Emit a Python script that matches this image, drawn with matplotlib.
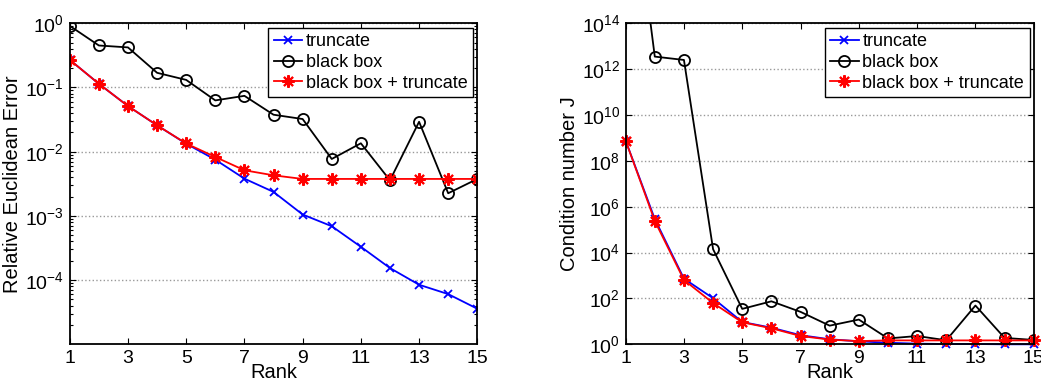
import matplotlib

matplotlib.use("Agg")

import matplotlib.pyplot as plt
from matplotlib.ticker import LogLocator, NullLocator, NullFormatter

plt.rcParams["font.family"] = ["Liberation Sans", "DejaVu Sans"]
plt.rcParams["font.size"] = 14
plt.rcParams["mathtext.fontset"] = "custom"
plt.rcParams["mathtext.rm"] = "Liberation Sans"

# ---- data ----
rank = list(range(1, 16))

err_truncate = [0.269, 0.114, 0.0513, 0.0257, 0.0133, 0.0075, 0.0038, 0.00236,
                0.00105, 0.00069, 0.00033, 0.000154, 8.46e-5, 6.05e-5, 3.58e-5]
err_blackbox = [0.91, 0.45, 0.42, 0.169, 0.131, 0.0628, 0.074, 0.0376,
                0.0322, 0.00769, 0.0135, 0.00358, 0.0292, 0.00225, 0.00376]
err_bb_trunc = [0.269, 0.114, 0.0513, 0.0257, 0.0134, 0.00826, 0.00513, 0.00428,
                0.00376, 0.00376, 0.00376, 0.00376, 0.00376, 0.00376, 0.00376]

cond_truncate = [7.6e8, 2.9e5, 730, 102, 9.4, 5.3, 2.5, 1.66,
                 1.35, 1.17, 1.07, 1.03, 1.03, 1.0, 1.0]
cond_blackbox = [3e22, 3.5e12, 2.5e12, 1.4e4, 35, 75, 26, 6.5,
                 12, 1.8, 2.3, 1.5, 49, 1.9, 1.55]
cond_bb_trunc = [7.6e8, 2.4e5, 640, 63, 9.1, 5.0, 2.3, 1.6,
                 1.38, 1.48, 1.48, 1.48, 1.48, 1.48, 1.48]

legend_labels = ["truncate", "black box", "black box + truncate"]
xticks = [1, 3, 5, 7, 9, 11, 13, 15]

asterisk = (8, 2, 0)

fig = plt.figure(figsize=(10.41, 3.85), dpi=100)
ax1 = fig.add_axes([0.067, 0.1057, 0.3915, 0.834])
ax2 = fig.add_axes([0.601, 0.1057, 0.392, 0.834])


def draw(ax, t, b, r, clip_low):
    lt, = ax.plot(rank, t, color="blue", lw=1.3, marker="x", ms=6, mew=1.3,
                  clip_on=not clip_low)
    lb, = ax.plot(rank, b, color="black", lw=1.3, marker="o", ms=8, mew=1.3,
                  mfc="none")
    lr, = ax.plot(rank, r, color="red", lw=1.3, marker=asterisk, ms=9, mew=1.5,
                  clip_on=not clip_low)
    ax.set_yscale("log")
    ax.set_xlim(1, 15)
    ax.set_xticks(xticks)
    ax.set_xlabel("Rank", labelpad=-3, fontsize=14.5)
    ax.yaxis.grid(True, which="major", linestyle=":", color="#999999", lw=1.0)
    ax.tick_params(which="both", direction="in", top=True, right=True,
                   width=0.8, labelsize=14)
    ax.tick_params(which="major", length=4, pad=4)
    ax.tick_params(which="minor", length=2.5)
    for s in ax.spines.values():
        s.set_linewidth(1.3)
    leg = ax.legend([lt, lb, lr], legend_labels, loc="upper right",
                    bbox_to_anchor=(0.99, 0.985), fancybox=False,
                    edgecolor="black", framealpha=1, handlelength=1.6,
                    handletextpad=0.2, labelspacing=0.2, borderpad=0.3,
                    borderaxespad=0.0, fontsize=13)
    leg.get_frame().set_linewidth(1.0)


draw(ax1, err_truncate, err_blackbox, err_bb_trunc, False)
ax1.set_ylim(1e-5, 1)
ax1.set_yticks([1e-4, 1e-3, 1e-2, 1e-1, 1])
ax1.yaxis.set_minor_locator(LogLocator(base=10, subs=range(2, 10), numticks=20))
ax1.yaxis.set_minor_formatter(NullFormatter())
ax1.set_ylabel("Relative Euclidean Error", labelpad=2, fontsize=14.5)

draw(ax2, cond_truncate, cond_blackbox, cond_bb_trunc, True)
ax2.set_ylim(1, 1e14)
ax2.set_yticks([10.0 ** k for k in range(0, 15, 2)])
ax2.yaxis.set_minor_locator(NullLocator())
ax2.set_ylabel("Condition number J", labelpad=2, fontsize=14.5)

fig.savefig("out.png", dpi=100)
